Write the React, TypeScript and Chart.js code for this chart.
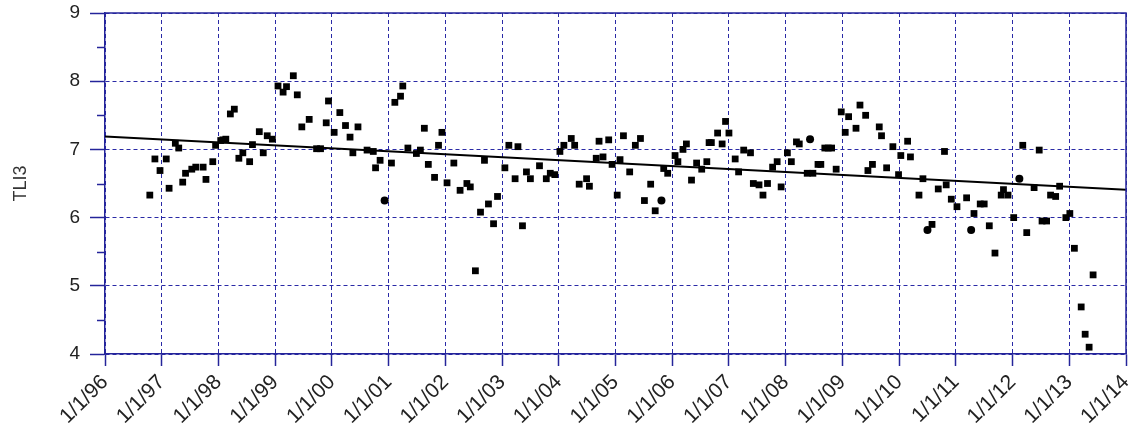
import React, { useEffect, useRef } from "react";
import { Chart, registerables } from "chart.js";

Chart.register(...registerables);

// Sample dates (decimal years) and TLI3 values (square markers)
const sampleYears: number[] = [
  1996.79, 1996.88, 1996.97, 1997.08, 1997.13, 1997.24, 1997.30, 1997.37, 1997.42, 1997.53,
  1997.60, 1997.73, 1997.78, 1997.90, 1997.95, 1998.04, 1998.08, 1998.13, 1998.21, 1998.28,
  1998.36, 1998.43, 1998.55, 1998.60, 1998.72, 1998.79, 1998.86, 1998.95, 1999.05, 1999.14,
  1999.20, 1999.32, 1999.39, 1999.47, 1999.60, 1999.73, 1999.80, 1999.90, 1999.94, 2000.04,
  2000.14, 2000.24, 2000.32, 2000.37, 2000.46, 2000.62, 2000.73, 2000.77, 2000.85, 2001.05,
  2001.11, 2001.21, 2001.25, 2001.34, 2001.49, 2001.56, 2001.63, 2001.70, 2001.81, 2001.88,
  2001.94, 2002.03, 2002.15, 2002.26, 2002.38, 2002.44, 2002.53, 2002.62, 2002.69, 2002.76,
  2002.85, 2002.92, 2003.05, 2003.12, 2003.23, 2003.28, 2003.36, 2003.43, 2003.50, 2003.66,
  2003.78, 2003.85, 2003.93, 2004.02, 2004.09, 2004.22, 2004.28, 2004.36, 2004.49, 2004.54,
  2004.66, 2004.71, 2004.78, 2004.88, 2004.94, 2005.03, 2005.08, 2005.14, 2005.25, 2005.35,
  2005.44, 2005.51, 2005.62, 2005.70, 2005.85, 2005.92, 2006.05, 2006.10, 2006.19, 2006.25,
  2006.34, 2006.43, 2006.52, 2006.61, 2006.65, 2006.69, 2006.80, 2006.88, 2006.94, 2007.00,
  2007.11, 2007.17, 2007.26, 2007.38, 2007.43, 2007.53, 2007.60, 2007.68, 2007.77, 2007.85,
  2007.92, 2008.03, 2008.10, 2008.19, 2008.24, 2008.38, 2008.48, 2008.57, 2008.62, 2008.69,
  2008.75, 2008.81, 2008.89, 2008.98, 2009.05, 2009.11, 2009.24, 2009.31, 2009.41, 2009.45,
  2009.53, 2009.65, 2009.69, 2009.78, 2009.89, 2009.99, 2010.03, 2010.15, 2010.20, 2010.35,
  2010.42, 2010.58, 2010.69, 2010.80, 2010.83, 2010.92, 2011.02, 2011.19, 2011.32, 2011.43,
  2011.50, 2011.59, 2011.69, 2011.80, 2011.84, 2011.92, 2012.02, 2012.18, 2012.25, 2012.38,
  2012.47, 2012.52, 2012.60, 2012.67, 2012.76, 2012.83, 2012.94, 2013.01, 2013.09, 2013.21,
  2013.28, 2013.35, 2013.42,
];

const sampleTli: number[] = [
  6.33, 6.86, 6.69, 6.86, 6.43, 7.09, 7.02, 6.52, 6.65, 6.71,
  6.74, 6.74, 6.56, 6.82, 7.06, 7.13, 7.14, 7.15, 7.52, 7.59,
  6.87, 6.95, 6.82, 7.07, 7.26, 6.95, 7.20, 7.15, 7.93, 7.84,
  7.92, 8.08, 7.80, 7.33, 7.44, 7.01, 7.01, 7.39, 7.71, 7.25,
  7.54, 7.35, 7.18, 6.95, 7.33, 6.99, 6.97, 6.73, 6.84, 6.80,
  7.69, 7.78, 7.93, 7.02, 6.94, 6.99, 7.31, 6.78, 6.59, 7.06,
  7.25, 6.51, 6.80, 6.40, 6.50, 6.45, 5.22, 6.08, 6.84, 6.20,
  5.91, 6.31, 6.73, 7.06, 6.57, 7.04, 5.88, 6.67, 6.57, 6.76,
  6.57, 6.65, 6.63, 6.97, 7.06, 7.16, 7.06, 6.49, 6.57, 6.46,
  6.87, 7.12, 6.89, 7.14, 6.78, 6.33, 6.85, 7.20, 6.67, 7.06,
  7.16, 6.25, 6.49, 6.10, 6.72, 6.65, 6.91, 6.82, 7.00, 7.08,
  6.55, 6.80, 6.71, 6.82, 7.10, 7.10, 7.24, 7.08, 7.41, 7.24,
  6.86, 6.67, 6.99, 6.95, 6.50, 6.48, 6.33, 6.50, 6.74, 6.82,
  6.45, 6.95, 6.82, 7.11, 7.08, 6.65, 6.65, 6.78, 6.78, 7.02,
  7.02, 7.02, 6.71, 7.55, 7.25, 7.48, 7.31, 7.65, 7.50, 6.69,
  6.78, 7.33, 7.20, 6.73, 7.04, 6.63, 6.91, 7.12, 6.89, 6.33,
  6.57, 5.90, 6.42, 6.97, 6.48, 6.27, 6.16, 6.29, 6.06, 6.20,
  6.20, 5.88, 5.48, 6.33, 6.41, 6.33, 6.00, 7.06, 5.78, 6.44,
  6.99, 5.95, 5.95, 6.33, 6.31, 6.46, 6.00, 6.06, 5.55, 4.69,
  4.29, 4.10, 5.16,
];

// Samples drawn as round dots
const roundYears: number[] = [2000.93, 2005.81, 2008.43, 2010.50, 2011.27, 2012.12];
const roundTli: number[] = [6.25, 6.25, 7.15, 5.82, 5.82, 6.57];

// Linear trend line end points
const trendYears: number[] = [1996, 2014];
const trendTli: number[] = [7.19, 6.41];

// Axis ranges / ticks
const xMinYear = 1996;
const xMaxYear = 2014;
const yMin = 4;
const yMax = 9;
const yMinorTicks: number[] = [4.5, 5.5, 6.5, 7.5, 8.5];
const yTitle = "TLI3";

const AXIS_COLOR = "#24249a";
const GRID_COLOR = "#2a2aa6";
const FONT = "'Liberation Sans', Arial, sans-serif";

const framePlugin = {
  id: "frame",
  afterDraw(chart: any) {
    const { ctx, chartArea, scales } = chart;
    const y = scales.y;
    ctx.save();
    ctx.strokeStyle = AXIS_COLOR;
    ctx.lineWidth = 1.5;
    ctx.setLineDash([]);
    ctx.beginPath();
    ctx.moveTo(chartArea.left, chartArea.top);
    ctx.lineTo(chartArea.right, chartArea.top);
    ctx.lineTo(chartArea.right, chartArea.bottom);
    ctx.stroke();
    yMinorTicks.forEach((v) => {
      const py = Math.round(y.getPixelForValue(v)) + 0.5;
      ctx.beginPath();
      ctx.moveTo(chartArea.left - 8, py);
      ctx.lineTo(chartArea.left, py);
      ctx.stroke();
    });
    ctx.restore();
  },
};

export default function App() {
  const ref = useRef<HTMLCanvasElement | null>(null);

  useEffect(() => {
    document.body.style.margin = "0";
    if (!ref.current) return;
    const pad2 = (n: number) => String(Math.round(n) % 100).padStart(2, "0");
    const noPad = (s: any) => {
      s.paddingTop = 0;
      s.paddingBottom = 0;
      s.paddingLeft = 0;
      s.paddingRight = 0;
    };
    const chart = new Chart(ref.current, {
      type: "scatter",
      data: {
        datasets: [
          {
            type: "line",
            label: "Trend",
            data: trendYears.map((x, i) => ({ x, y: trendTli[i] })),
            borderColor: "#000",
            borderWidth: 2,
            pointRadius: 0,
            fill: false,
          } as any,
          {
            label: "TLI3",
            data: sampleYears.map((x, i) => ({ x, y: sampleTli[i] })),
            pointStyle: "rect",
            pointRadius: 4.8,
            pointBackgroundColor: "#000",
            pointBorderColor: "#000",
            pointBorderWidth: 0,
          },
          {
            label: "TLI3 (round)",
            data: roundYears.map((x, i) => ({ x, y: roundTli[i] })),
            pointStyle: "circle",
            pointRadius: 4,
            pointBackgroundColor: "#000",
            pointBorderColor: "#000",
            pointBorderWidth: 0,
          },
        ],
      },
      options: {
        animation: false,
        responsive: false,
        maintainAspectRatio: false,
        layout: { padding: { left: 0, top: 13, right: 13, bottom: 0 } },
        plugins: {
          legend: { display: false },
          tooltip: { enabled: false },
        },
        scales: {
          x: {
            type: "linear",
            min: xMinYear,
            max: xMaxYear,
            afterFit: (s: any) => {
              s.height = 70;
              noPad(s);
            },
            ticks: {
              stepSize: 1,
              autoSkip: false,
              maxRotation: 45,
              minRotation: 45,
              padding: 4,
              color: "#222",
              font: { family: FONT, size: 21 },
              callback: (v: any) => `1/1/${pad2(Number(v))}`,
            },
            grid: {
              color: GRID_COLOR,
              lineWidth: 1,
              tickLength: 12,
              tickColor: AXIS_COLOR,
              tickWidth: 1.5,
            },
            border: { color: AXIS_COLOR, width: 1.5, dash: [4, 3] },
          },
          y: {
            type: "linear",
            min: yMin,
            max: yMax,
            afterFit: (s: any) => {
              s.width = 105;
              noPad(s);
            },
            ticks: {
              stepSize: 1,
              padding: 10,
              color: "#222",
              font: { family: FONT, size: 19 },
            },
            grid: {
              color: GRID_COLOR,
              lineWidth: 1,
              tickLength: 15,
              tickColor: AXIS_COLOR,
              tickWidth: 1.5,
            },
            border: { color: AXIS_COLOR, width: 1.5, dash: [4, 3] },
            title: {
              display: true,
              text: yTitle,
              color: "#333",
              font: { family: FONT, size: 18 },
              padding: { top: 10, bottom: 0 },
            },
          },
        },
      },
      plugins: [framePlugin],
    });
    return () => chart.destroy();
  }, []);

  return (
    <div style={{ width: 1139, height: 424, background: "#fff" }}>
      <canvas ref={ref} width={1139} height={424} style={{ display: "block" }} />
    </div>
  );
}
